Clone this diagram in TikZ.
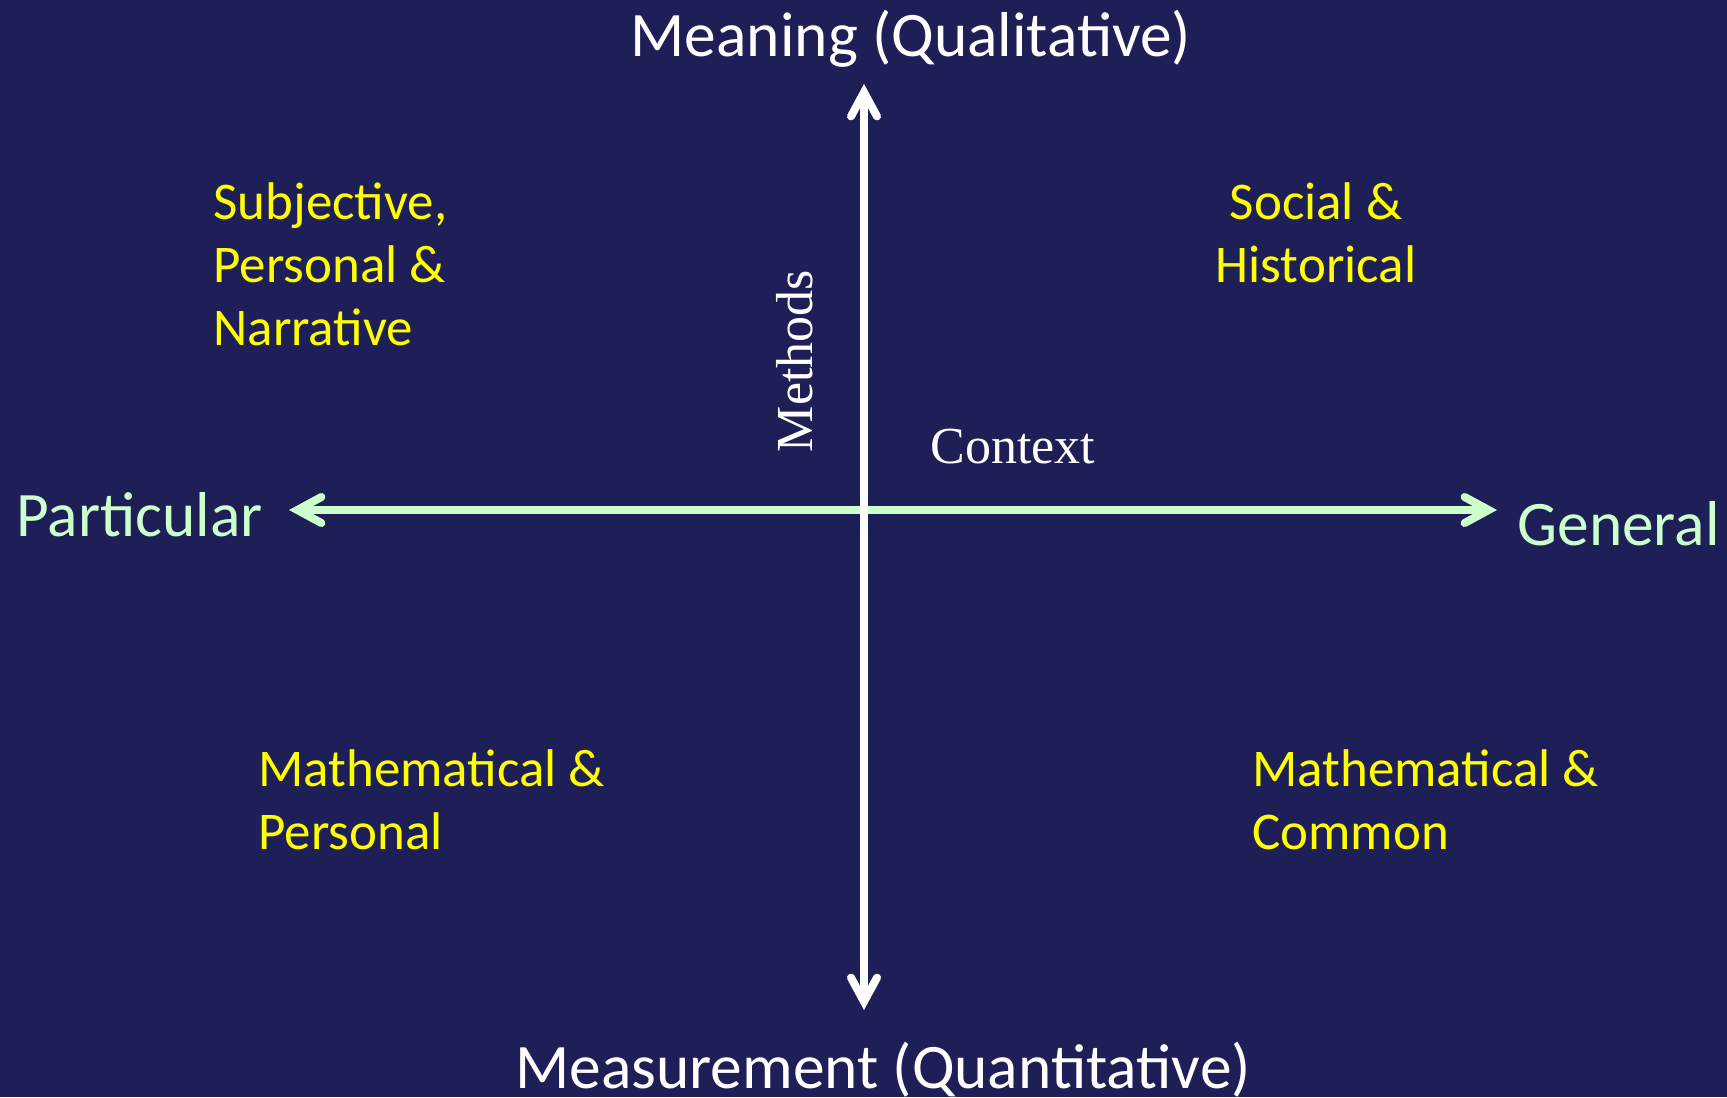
\documentclass[tikz,border=0pt]{standalone}
\usepackage{fontspec}
\setmainfont{Carlito}
\newfontfamily\axisserif{Liberation Serif}
\usepackage{tikz}
\usetikzlibrary{arrows.meta,positioning}
\definecolor{navybg}{RGB}{30,31,87}
\definecolor{mint}{RGB}{204,255,204}
\definecolor{quadyellow}{RGB}{255,255,0}

\begin{document}
\begin{tikzpicture}[x=0.5pt,y=-0.5pt,
        barb/.tip={Straight Barb[length=12pt,width=13pt,line cap=round]},
        axisarrow/.style={line width=4pt,barb-barb}]
        \fill[navybg] (0,0) rectangle (1727,1097);
        \useasboundingbox (0,0) rectangle (1727,1097);

        % ends of the two axes
        \coordinate (mtop) at (864,84);
        \coordinate (mbot) at (864,1010);
        \coordinate (pleft) at (289,510);
        \coordinate (gright) at (1497,510);

        \draw[axisarrow,mint] (pleft) -- (gright);
        \draw[axisarrow,white] (mbot) -- (mtop);

        \begin{scope}[every node/.append style={inner sep=0pt,font=\fontsize{31.7}{38}\selectfont}]
            \node [text=white,anchor=base] (mean) at (911,57) {Meaning (Qualitative)};
            \node [text=white,anchor=base] (meas) at (883,1088) {Measurement (Quantitative)};
            \node [text=mint,anchor=base west] (part) at (16,536) {Particular};
            \node [text=mint,anchor=base west] (gen) at (1517,545) {General};
        \end{scope}

        % base anchor sits on the last line
        \begin{scope}[every node/.append style={inner sep=0pt,text=quadyellow,align=left,anchor=base west,font=\fontsize{26.5}{31.5}\selectfont}]
            \node (spn) at (213,345) {Subjective,\\Personal \&\\Narrative};
            \node [align=center,anchor=base] (sh) at (1316,282) {Social \&\\Historical};
            \node (mp) at (258,849) {Mathematical \&\\Personal};
            \node (mc) at (1252,849) {Mathematical \&\\Common};
        \end{scope}

        \begin{scope}[every node/.append style={inner sep=0pt,text=white,font=\axisserif\fontsize{26}{31}\selectfont}]
            \node [rotate=90,anchor=base] (meth) at (812,361) {Methods};
            \node [anchor=base west] (ctx) at (930,463) {Context};
        \end{scope}
    \end{tikzpicture}
\end{document}
